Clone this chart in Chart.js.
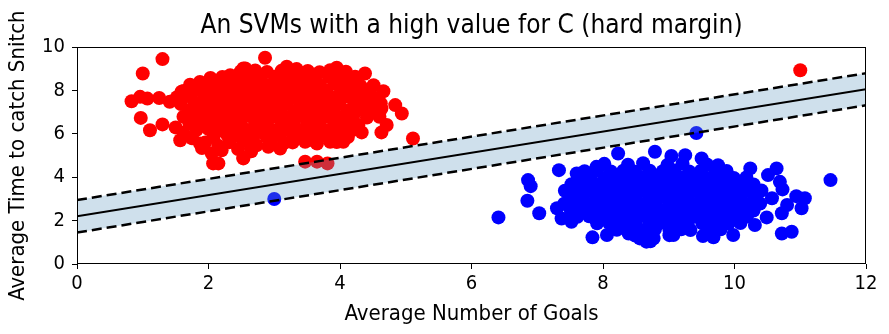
<!DOCTYPE html>
<html>
<head>
<meta charset="utf-8">
<script src="https://cdn.jsdelivr.net/npm/chart.js@4.4.0/dist/chart.umd.min.js"></script>
<style>
  html, body { margin: 0; padding: 0; background: #fff; }
  #wrap { width: 889px; height: 334px; }
</style>
</head>
<body>
<div id="wrap"><canvas id="svmChart" width="889" height="334"></canvas></div>
<script>
// Axis ticks
const xTicks = [0, 2, 4, 6, 8, 10, 12];
const yTicks = [0, 2, 4, 6, 8, 10];

// Class 1 (red): Average Number of Goals, Average Time to catch Snitch
const redPoints = [
  // outer points
  [1.30, 9.45], [1.00, 8.79], [0.83, 7.51], [0.96, 7.71], [1.07, 7.63], [1.25, 7.66], [1.41, 7.48],
  [0.97, 6.74], [1.11, 6.17], [1.30, 6.44], [1.57, 5.71], [1.87, 5.56], [2.07, 4.64], [2.15, 4.64],
  [2.53, 4.87], [2.20, 5.25], [1.59, 7.95], [1.87, 8.40], [2.17, 8.48], [2.33, 8.71], [2.53, 9.02],
  [2.86, 9.51], [2.56, 9.02], [3.19, 9.10], [3.34, 8.99], [3.85, 8.94], [3.95, 9.05], [4.38, 8.79],
  [4.23, 8.64], [4.51, 8.25], [4.66, 7.97], [4.84, 7.33], [4.94, 6.94], [4.63, 7.17], [4.71, 6.41],
  [4.63, 6.07], [4.33, 6.07], [4.28, 6.41], [5.11, 5.79], [4.05, 5.64], [3.85, 5.64], [3.65, 5.56],
  [3.47, 5.64], [3.09, 5.33], [2.91, 5.41], [2.73, 5.48], [2.53, 4.90], [3.47, 4.72], [3.65, 4.72],
  [3.81, 4.64], [11.00, 8.94],
  [1.50, 6.30], [1.62, 6.05], [1.75, 5.80], [1.90, 5.35], [2.05, 5.10], [1.95, 5.60], [2.15, 5.45],
  [2.45, 5.30], [2.65, 5.20],
  // core
  [2.49, 8.88], [2.71, 8.93], [2.89, 8.86], [3.11, 8.91], [3.29, 8.84], [3.51, 8.90], [3.69, 8.85], [3.91, 8.92], [4.09, 8.87],
  [2.03, 8.58], [2.21, 8.63], [2.42, 8.56], [2.61, 8.62], [2.79, 8.57], [3.01, 8.64], [3.22, 8.58], [3.41, 8.61],
  [3.62, 8.55], [3.83, 8.62], [4.01, 8.57], [4.21, 8.52],
  [1.72, 8.27], [1.92, 8.31], [2.11, 8.25], [2.31, 8.33], [2.52, 8.28], [2.71, 8.30], [2.92, 8.24], [3.11, 8.32],
  [3.29, 8.27], [3.51, 8.31], [3.69, 8.25], [3.92, 8.30], [4.11, 8.26], [4.31, 8.22],
  [1.62, 7.98], [1.81, 8.02], [2.02, 7.97], [2.21, 8.03], [2.39, 7.96], [2.62, 8.01], [2.81, 7.98], [3.02, 8.04],
  [3.21, 7.97], [3.42, 8.02], [3.61, 7.96], [3.79, 8.01], [4.02, 7.98], [4.21, 8.03], [4.41, 7.95],
  [1.52, 7.69], [1.71, 7.73], [1.93, 7.67], [2.12, 7.72], [2.31, 7.68], [2.49, 7.74], [2.71, 7.69], [2.91, 7.71],
  [3.09, 7.66], [3.31, 7.73], [3.49, 7.68], [3.72, 7.72], [3.91, 7.67], [4.12, 7.71], [4.29, 7.66], [4.51, 7.69],
  [1.58, 7.38], [1.79, 7.43], [2.01, 7.37], [2.19, 7.42], [2.41, 7.39], [2.59, 7.44], [2.82, 7.36], [3.01, 7.41],
  [3.19, 7.38], [3.39, 7.43], [3.61, 7.37], [3.81, 7.42], [3.99, 7.38], [4.22, 7.43], [4.41, 7.36], [4.62, 7.41],
  [1.71, 7.09], [1.91, 7.13], [2.11, 7.07], [2.31, 7.12], [2.49, 7.08], [2.71, 7.14], [2.89, 7.07], [3.09, 7.11],
  [3.31, 7.06], [3.51, 7.12], [3.69, 7.08], [3.89, 7.13], [4.11, 7.07], [4.29, 7.11], [4.52, 7.08],
  [1.62, 6.79], [1.80, 6.83], [2.01, 6.77], [2.20, 6.82], [2.39, 6.78], [2.60, 6.84], [2.81, 6.77], [3.00, 6.81],
  [3.19, 6.78], [3.40, 6.83], [3.61, 6.77], [3.80, 6.82], [3.99, 6.78], [4.20, 6.81], [4.41, 6.76], [4.60, 6.79],
  [1.71, 6.48], [1.91, 6.53], [2.11, 6.47], [2.29, 6.52], [2.49, 6.48], [2.71, 6.54], [2.89, 6.47], [3.11, 6.51],
  [3.29, 6.48], [3.51, 6.53], [3.69, 6.46], [3.91, 6.51], [4.09, 6.47],
  [1.82, 6.19], [2.00, 6.23], [2.20, 6.17], [2.41, 6.22], [2.60, 6.18], [2.79, 6.24], [3.01, 6.17], [3.20, 6.21],
  [3.40, 6.18], [3.59, 6.23], [3.80, 6.17], [4.00, 6.21], [4.19, 6.18],
  [2.08, 5.89], [2.29, 5.93], [2.48, 5.87], [2.69, 5.92], [2.88, 5.88], [3.09, 5.94], [3.29, 5.87], [3.49, 5.91],
  [3.69, 5.88], [3.89, 5.92], [4.12, 5.86],
  [2.32, 5.62], [2.58, 5.66], [3.28, 5.61], [3.61, 5.67], [3.95, 5.63], [2.95, 5.66], [3.15, 5.58]
];

// Class 2 (blue)
const bluePoints = [
  // outer points
  [6.41, 2.15], [6.86, 3.87], [6.90, 3.59], [6.85, 2.92], [7.03, 2.34], [7.33, 4.33], [7.30, 2.57],
  [7.37, 2.10], [7.52, 1.95], [7.84, 1.23], [8.06, 1.34], [8.23, 5.10], [8.79, 5.18], [7.60, 4.18],
  [7.90, 4.48], [8.39, 1.41], [8.66, 1.03], [9.04, 4.98], [9.25, 5.02], [9.50, 4.87], [9.75, 4.56],
  [10.24, 4.41], [10.64, 4.41], [10.51, 4.10], [10.69, 3.79], [10.73, 3.44], [11.46, 3.87], [10.94, 3.13],
  [11.07, 3.03], [10.80, 2.72], [11.02, 2.57], [10.72, 2.34], [10.49, 2.15], [10.57, 3.03], [10.72, 1.41],
  [10.87, 1.49], [10.31, 1.80], [9.98, 1.34], [9.68, 1.23], [9.33, 1.57], [9.07, 1.34], [8.77, 1.18],
  [8.56, 1.18], [8.72, 1.05], [9.42, 6.04], [3.00, 3.00],
  // core
  [8.02, 4.62], [8.38, 4.58], [8.61, 4.65], [8.98, 4.57], [9.21, 4.63], [9.58, 4.59],
  [7.72, 4.28], [7.91, 4.31], [8.12, 4.27], [8.31, 4.30], [8.49, 4.26], [8.71, 4.30], [8.91, 4.28], [9.09, 4.31],
  [9.31, 4.27], [9.49, 4.30], [9.71, 4.26], [9.88, 4.29],
  [7.62, 3.98], [7.81, 4.00], [8.02, 3.97], [8.21, 4.00], [8.39, 3.98], [8.61, 4.01], [8.79, 3.97], [9.01, 3.99],
  [9.19, 3.98], [9.41, 4.00], [9.59, 3.97], [9.81, 4.00], [9.99, 3.97], [10.18, 3.99],
  [7.52, 3.68], [7.71, 3.70], [7.89, 3.67], [8.11, 3.70], [8.29, 3.68], [8.51, 3.71], [8.69, 3.67], [8.91, 3.69],
  [9.09, 3.68], [9.31, 3.70], [9.49, 3.67], [9.71, 3.70], [9.89, 3.68], [10.11, 3.70], [10.29, 3.67],
  [7.42, 3.38], [7.61, 3.40], [7.79, 3.37], [8.01, 3.40], [8.19, 3.38], [8.41, 3.41], [8.59, 3.37], [8.81, 3.39],
  [8.99, 3.38], [9.21, 3.40], [9.39, 3.37], [9.61, 3.40], [9.79, 3.38], [10.01, 3.40], [10.19, 3.37], [10.41, 3.39],
  [7.51, 3.08], [7.69, 3.10], [7.91, 3.07], [8.09, 3.10], [8.31, 3.08], [8.49, 3.11], [8.71, 3.07], [8.89, 3.09],
  [9.11, 3.08], [9.29, 3.10], [9.51, 3.07], [9.69, 3.10], [9.91, 3.08], [10.09, 3.10], [10.31, 3.07],
  [7.41, 2.78], [7.59, 2.80], [7.81, 2.77], [7.99, 2.80], [8.21, 2.78], [8.39, 2.81], [8.61, 2.77], [8.79, 2.79],
  [9.01, 2.78], [9.19, 2.80], [9.41, 2.77], [9.59, 2.80], [9.81, 2.78], [9.99, 2.80], [10.21, 2.77], [10.39, 2.79],
  [7.51, 2.48], [7.69, 2.50], [7.91, 2.47], [8.09, 2.50], [8.31, 2.48], [8.49, 2.51], [8.71, 2.47], [8.89, 2.49],
  [9.11, 2.48], [9.29, 2.50], [9.51, 2.47], [9.69, 2.50], [9.91, 2.48], [10.09, 2.50], [10.29, 2.47],
  [7.61, 2.18], [7.79, 2.20], [8.01, 2.17], [8.19, 2.20], [8.41, 2.18], [8.59, 2.21], [8.81, 2.17], [8.99, 2.19],
  [9.21, 2.18], [9.39, 2.20], [9.61, 2.17], [9.79, 2.20], [10.01, 2.18], [10.19, 2.19],
  [7.91, 1.88], [8.09, 1.90], [8.31, 1.87], [8.49, 1.90], [8.71, 1.88], [8.89, 1.91], [9.11, 1.87], [9.29, 1.89],
  [9.51, 1.88], [9.69, 1.90], [9.91, 1.87], [10.09, 1.89],
  [8.21, 1.58], [8.39, 1.60], [8.61, 1.57], [8.79, 1.60], [9.01, 1.58], [9.19, 1.60], [9.61, 1.58], [9.79, 1.60],
  [8.49, 1.31], [8.71, 1.28], [9.01, 1.33], [9.52, 1.29]
];

// Decision boundary and margins: [x, y] at the two ends of the axis
const boundary = [[0, 2.20], [12, 8.06]];
const marginUpper = [[0, 2.95], [12, 8.80]];
const marginLower = [[0, 1.45], [12, 7.32]];

const toXY = pts => pts.map(p => ({ x: p[0], y: p[1] }));
const FONT = '"DejaVu Sans Condensed", "DejaVu Sans", sans-serif';

// box round the plot area, like matplotlib spines
const framePlugin = {
  id: 'frame',
  afterDatasetsDraw(chart) {
    const a = chart.chartArea;
    const c = chart.ctx;
    c.save();
    c.strokeStyle = '#000';
    c.lineWidth = 1;
    c.strokeRect(Math.round(a.left) + 0.5, Math.round(a.top) + 0.5,
      Math.round(a.right - a.left) - 1, Math.round(a.bottom - a.top) - 1);
    c.restore();
  },
};

const ctx = document.getElementById('svmChart').getContext('2d');
const svmChart = new Chart(ctx, {
  type: 'scatter',
  data: {
    datasets: [
      {
        label: 'red',
        data: toXY(redPoints),
        backgroundColor: '#ff0000',
        borderWidth: 0,
        pointRadius: 7,
        order: 3,
      },
      {
        label: 'blue',
        data: toXY(bluePoints),
        backgroundColor: '#0000ff',
        borderWidth: 0,
        pointRadius: 7,
        order: 3,
      },
      {
        type: 'line',
        label: 'lower margin',
        data: toXY(marginLower),
        borderColor: '#000',
        borderWidth: 2.5,
        borderDash: [10, 5],
        pointRadius: 0,
        fill: false,
        order: 2,
      },
      {
        type: 'line',
        label: 'upper margin',
        data: toXY(marginUpper),
        borderColor: '#000',
        borderWidth: 2.5,
        borderDash: [10, 5],
        pointRadius: 0,
        fill: { target: 2 },
        backgroundColor: 'rgba(95, 152, 192, 0.3)',
        order: 2,
      },
      {
        type: 'line',
        label: 'boundary',
        data: toXY(boundary),
        borderColor: '#000',
        borderWidth: 2,
        pointRadius: 0,
        fill: false,
        order: 1,
      },
    ],
  },
  options: {
    responsive: false,
    animation: false,
    events: [],
    layout: { padding: { left: 0, right: 23, top: 0, bottom: 0 } },
    plugins: {
      legend: { display: false },
      tooltip: { enabled: false },
      title: {
        display: true,
        fullSize: false,
        text: 'An SVMs with a high value for C (hard margin)',
        color: '#000',
        font: { family: FONT, size: 26, weight: 'normal', lineHeight: 1.2 },
        padding: { top: 11, bottom: 5 },
      },
    },
    scales: {
      x: {
        type: 'linear',
        min: 0,
        max: 12,
        afterBuildTicks: s => { s.ticks = xTicks.map(v => ({ value: v })); },
        afterFit: s => { s.height = 70; },
        border: { display: false },
        grid: { drawOnChartArea: false, drawTicks: true, tickLength: 5, color: '#000' },
        ticks: { color: '#000', padding: 3, maxRotation: 0, font: { family: FONT, size: 20 } },
        title: {
          display: true,
          text: 'Average Number of Goals',
          color: '#000',
          font: { family: FONT, size: 22, lineHeight: 1.2 },
          padding: { top: 0, bottom: 7 },
        },
      },
      y: {
        type: 'linear',
        min: 0,
        max: 10,
        afterBuildTicks: s => { s.ticks = yTicks.map(v => ({ value: v })); },
        afterFit: s => { s.width = 77; },
        border: { display: false },
        grid: { drawOnChartArea: false, drawTicks: true, tickLength: 5, color: '#000' },
        ticks: { color: '#000', padding: 7, font: { family: FONT, size: 20 } },
        title: {
          display: true,
          text: 'Average Time to catch Snitch',
          color: '#000',
          font: { family: FONT, size: 22, lineHeight: 1.2 },
          padding: { top: 5, bottom: 0 },
        },
      },
    },
  },
  plugins: [framePlugin],
});
</script>
</body>
</html>
